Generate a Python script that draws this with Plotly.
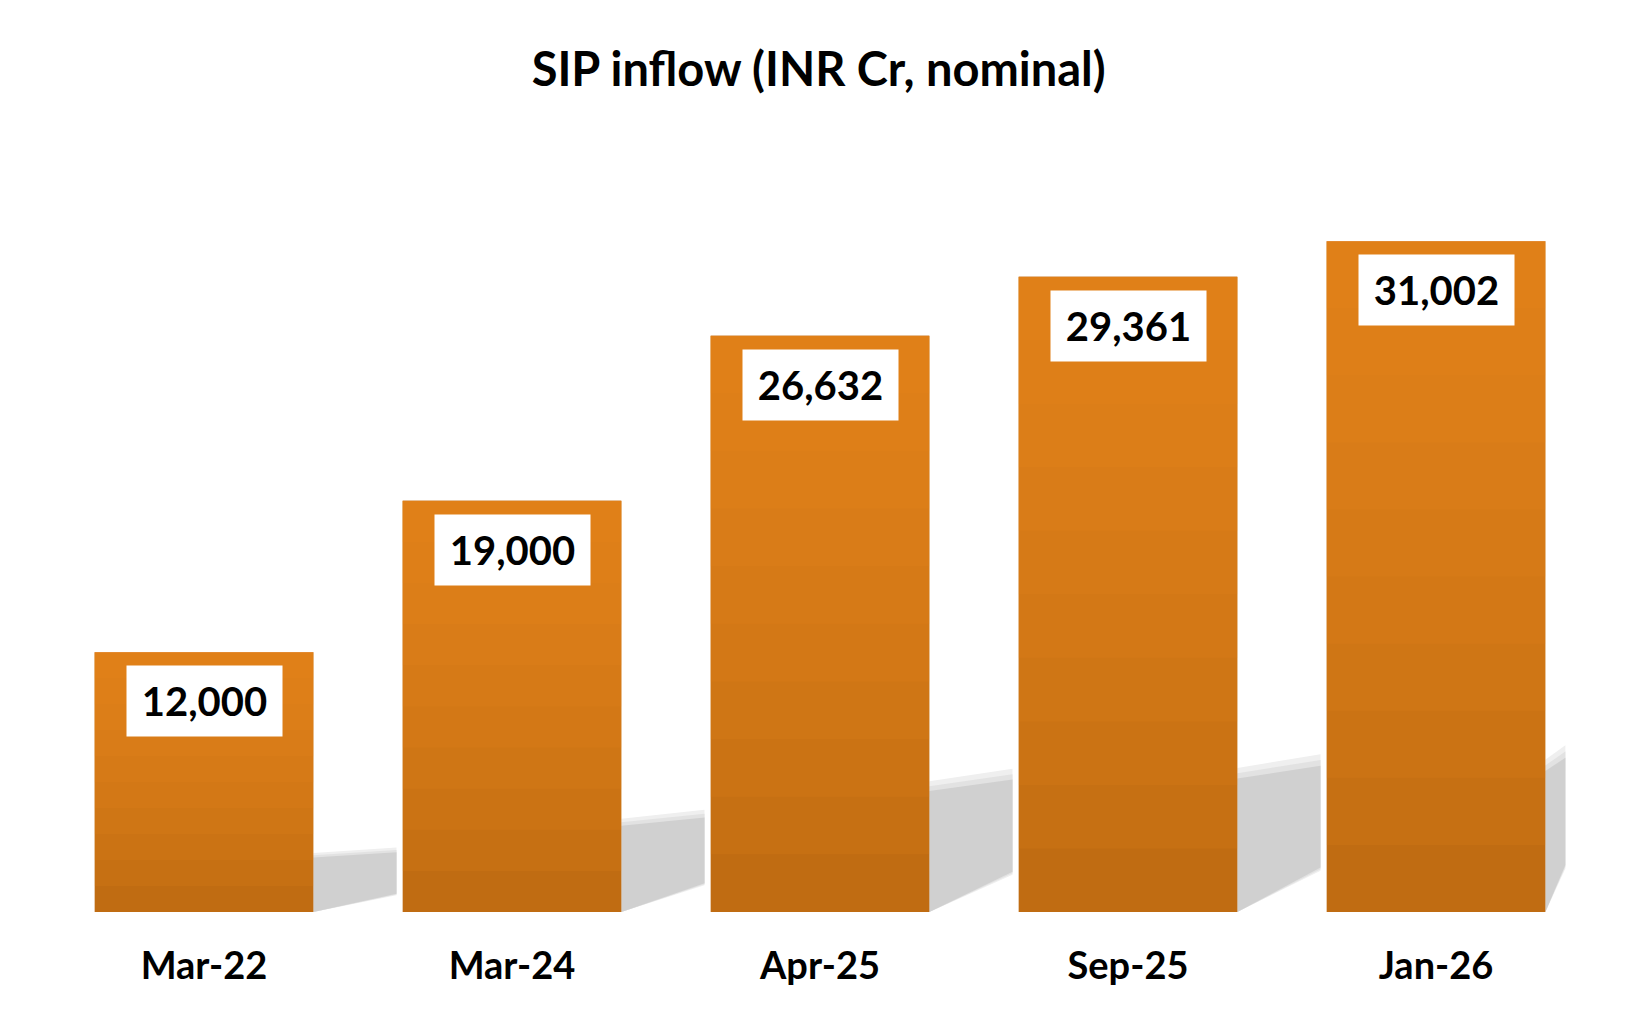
import plotly.graph_objects as go

months = ['Mar-22', 'Mar-24', 'Apr-25', 'Sep-25', 'Jan-26']
inflow = [12000, 19000, 26632, 29361, 31002]

FONT = 'Lato'
bar_w = 0.71

fig = go.Figure()

# base bar (darker orange at the bottom)
fig.add_trace(go.Bar(x=months, y=inflow, width=bar_w, marker_color='#C06C12',
                     marker_line_width=0, hoverinfo='x+y'))

# thin translucent overlays to fake the vertical gradient
n_layers = 10
for k in range(1, n_layers):
    frac = k / n_layers
    fig.add_trace(go.Bar(x=months, y=[v * (1 - frac) for v in inflow],
                         base=[v * frac for v in inflow], width=bar_w,
                         marker_color='rgba(243,141,29,0.13)', marker_line_width=0,
                         hoverinfo='skip'))

# soft grey shadows to the right of each bar
shapes = []
for i, v in enumerate(inflow):
    xr = i + bar_w / 2
    x_end = min(xr + 0.27, 4.42)
    for grow, col in [(1.08, '#EFEFEF'), (1.04, '#E2E2E2'), (1.0, '#D0D0D0')]:
        shapes.append(dict(
            type='path', xref='x', yref='y', layer='below', line_width=0,
            fillcolor=col,
            path=(f'M {xr} 0 L {xr} {0.21 * v * grow} '
                  f'L {x_end} {0.23 * v * grow} L {x_end} {0.07 * v / grow} Z'),
        ))

# white value boxes sitting inside the top of each bar
annotations = []
for m, v in zip(months, inflow):
    annotations.append(dict(
        x=m, y=v, xref='x', yref='y', yanchor='top', yshift=-13,
        text=f'{v:,}', showarrow=False, bgcolor='white',
        width=139, height=54, borderpad=8,
        font=dict(family=FONT, size=40, color='black', weight='bold'),
    ))

fig.update_layout(
    width=1641, height=1018,
    barmode='overlay', showlegend=False,
    plot_bgcolor='white', paper_bgcolor='white',
    margin=dict(l=42, r=59, t=125, b=114),
    title=dict(text='SIP inflow (INR Cr, nominal)', x=0.494, xanchor='center',
               y=0.94, yanchor='middle', yref='container',
               font=dict(family=FONT, size=47, color='black', weight='bold')),
    shapes=shapes, annotations=annotations,
)
fig.update_xaxes(showline=False, showgrid=False, ticks='', range=[-0.5, 4.5],
                 ticklabelstandoff=28,
                 tickfont=dict(family=FONT, size=38, color='black', weight='bold'))
fig.update_yaxes(visible=False, range=[0, 36000])

fig.write_html('out.html')
